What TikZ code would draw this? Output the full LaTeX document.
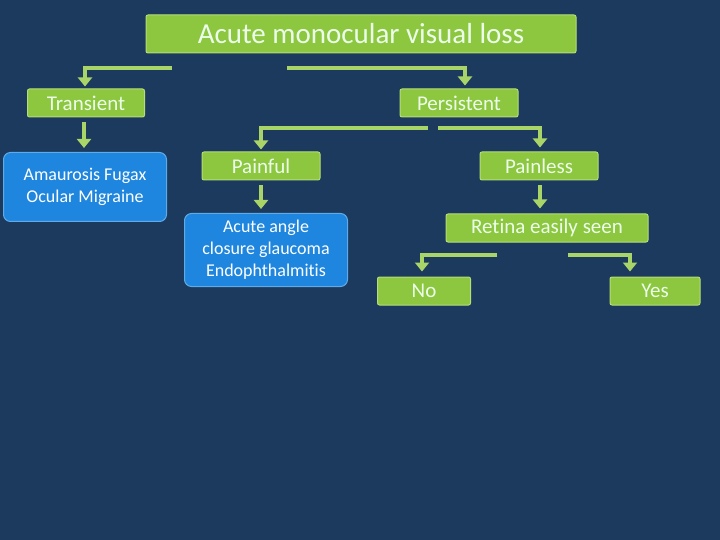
\documentclass[tikz,border=0pt]{standalone}
\usepackage{fontspec}
\setmainfont[Ligatures={NoCommon,NoRare,NoDiscretionary}]{Carlito}
\usetikzlibrary{arrows.meta}
\definecolor{bg}{HTML}{1B3A5E}
\definecolor{boxgreen}{HTML}{8DC63F}
\definecolor{boxedge}{HTML}{B5DD7A}
\definecolor{boxblue}{HTML}{1E86DE}
\definecolor{arrowgreen}{HTML}{A9D468}
\tikzset{
  gbox/.style={rectangle, rounded corners=2pt, fill=boxgreen, draw=boxedge, line width=1pt,
    text=white!92!green, font=\fontsize{21}{23}\selectfont, inner sep=0pt},
  bbox/.style={rectangle, rounded corners=7pt, fill=boxblue, draw=boxblue!70!white, line width=1pt,
    text=white, font=\fontsize{18}{22}\selectfont, align=center, inner sep=0pt},
  conn/.style={draw=arrowgreen, line width=4pt, -{Triangle[length=9pt,width=14pt]}}
}
\begin{document}
\begin{tikzpicture}[x=1pt,y=-1pt]
  \fill[bg] (0,0) rectangle (720,540);
  \useasboundingbox (0,0) rectangle (720,540);
  % boxes
  \node[gbox, minimum width=430pt, minimum height=38pt, font=\fontsize{29}{32}\selectfont] (title) at (361,34) {Acute monocular visual loss};
  \node[gbox, minimum width=117pt, minimum height=28pt] (trans) at (86,103) {Transient};
  \node[gbox, minimum width=118pt, minimum height=28pt] (pers) at (459,103) {Persistent};
  \node[bbox, minimum width=163pt, minimum height=69pt] (amau) at (85,187) {Amaurosis Fugax\\Ocular Migraine};
  \node[gbox, minimum width=118pt, minimum height=28pt] (pain) at (261,166) {Painful};
  \node[gbox, minimum width=118pt, minimum height=28pt] (nopain) at (539,166) {Painless};
  \node[bbox, minimum width=163pt, minimum height=73pt] (acute) at (266,250) {Acute angle\\closure glaucoma\\Endophthalmitis};
  \node[gbox, minimum width=202pt, minimum height=28pt] (retina) at (547,228) {Retina easily seen};
  \node[gbox, minimum width=93pt, minimum height=28pt] (no) at (424,291) {No};
  \node[gbox, minimum width=90pt, minimum height=28pt] (yes) at (655,291) {Yes};
  % free ends of the elbow connectors
  \coordinate (tl) at (172,68);
  \coordinate (tr) at (287,68);
  \coordinate (pl) at (428,128);
  \coordinate (pr) at (438,128);
  \coordinate (rl) at (497,255);
  \coordinate (rr) at (568,255);
  % connectors
  \draw[conn] (tl) -| ([xshift=-1pt,yshift=2pt]trans.north);
  \draw[conn] (tr) -| ([xshift=6pt,yshift=3pt]pers.north);
  \draw[conn] (pl) -| ([yshift=2pt]pain.north);
  \draw[conn] (pr) -| ([xshift=1pt,yshift=4pt]nopain.north);
  \draw[conn] (rl) -| ([xshift=-2pt,yshift=5pt]no.north);
  \draw[conn] (rr) -| ([xshift=-25pt,yshift=5pt]yes.north);
  \draw[conn] ([xshift=-2pt,yshift=-5pt]trans.south) -- ([xshift=-1pt,yshift=4pt]amau.north);
  \draw[conn] ([yshift=-5pt]pain.south) -- ([xshift=-5pt,yshift=4pt]acute.north);
  \draw[conn] ([xshift=1pt,yshift=-5pt]nopain.south) -- ([xshift=-7pt,yshift=5pt]retina.north);
\end{tikzpicture}
\end{document}
